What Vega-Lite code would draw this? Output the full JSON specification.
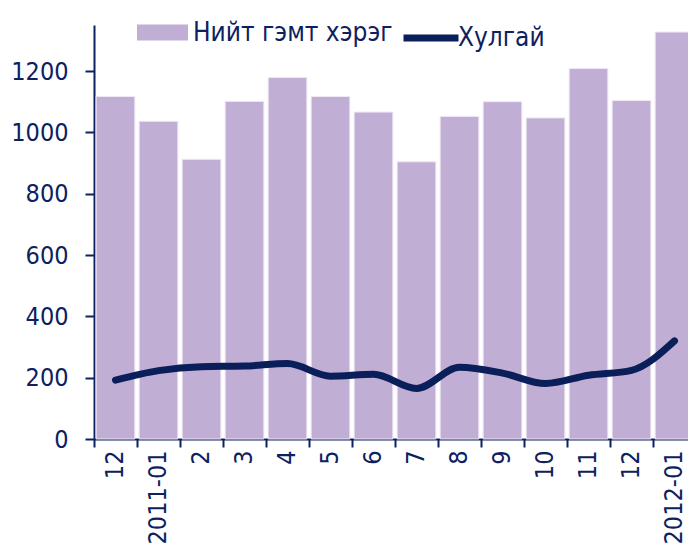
{
  "$schema": "https://vega.github.io/schema/vega-lite/v6.json",
  "width": 602,
  "height": 414,
  "autosize": {"type": "none"},
  "padding": {"left": 94, "top": 25, "right": 0, "bottom": 115},
  "config": {
    "view": {"stroke": null},
    "font": "DejaVu Sans Condensed",
    "axis": {
      "grid": false,
      "title": null,
      "domainColor": "#0D2160",
      "domainWidth": 2,
      "tickColor": "#0D2160",
      "tickWidth": 2,
      "labelColor": "#0D2160",
      "labelFont": "DejaVu Sans Condensed",
      "labelFontSize": 25
    }
  },
  "data": {
    "values": [
      {"month": "2010-12", "total": 1117, "theft": 192},
      {"month": "2011-01", "total": 1036, "theft": 223},
      {"month": "2011-02", "total": 912, "theft": 236},
      {"month": "2011-03", "total": 1101, "theft": 238},
      {"month": "2011-04", "total": 1179, "theft": 246},
      {"month": "2011-05", "total": 1117, "theft": 205},
      {"month": "2011-06", "total": 1066, "theft": 211},
      {"month": "2011-07", "total": 904, "theft": 165},
      {"month": "2011-08", "total": 1052, "theft": 234},
      {"month": "2011-09", "total": 1100, "theft": 215},
      {"month": "2011-10", "total": 1047, "theft": 181},
      {"month": "2011-11", "total": 1208, "theft": 208},
      {"month": "2011-12", "total": 1104, "theft": 224},
      {"month": "2012-01", "total": 1327, "theft": 320}
    ]
  },
  "encoding": {
    "x": {
      "field": "month",
      "type": "nominal",
      "sort": null,
      "scale": {"paddingInner": 0.1, "paddingOuter": 0.05},
      "axis": {
        "bandPosition": 0,
        "tickOffset": -2.15,
        "labelOffset": 1,
        "labelAngle": -90,
        "labelAlign": "right",
        "labelBaseline": "middle",
        "tickSize": 8,
        "labelPadding": 3,
        "labelExpr": "datum.value == '2011-01' || datum.value == '2012-01' ? datum.value : '' + toNumber(slice(datum.value, 5))"
      }
    }
  },
  "layer": [
    {
      "mark": {"type": "bar", "stroke": "#EEE8F5", "strokeWidth": 1},
      "encoding": {
        "y": {
          "field": "total",
          "type": "quantitative",
          "scale": {"domain": [0, 1350], "nice": false},
          "axis": {"values": [0, 200, 400, 600, 800, 1000, 1200], "format": "d", "tickSize": 9, "labelPadding": 17}
        },
        "fill": {
          "datum": "Нийт гэмт хэрэг",
          "type": "nominal",
          "scale": {"range": ["#C0AED5"]},
          "legend": {
            "orient": "none",
            "legendX": 43,
            "legendY": -18,
            "title": null,
            "padding": 0,
            "symbolType": "M-1,-0.31H1V0.31H-1Z",
            "symbolSize": 2601,
            "symbolStrokeWidth": 0,
            "symbolOpacity": 1,
            "labelOffset": 5,
            "labelFont": "DejaVu Sans Condensed",
            "labelFontSize": 26,
            "labelColor": "#0D2160",
            "labelLimit": 400
          }
        }
      }
    },
    {
      "mark": {"type": "line", "interpolate": "monotone", "strokeWidth": 7, "strokeCap": "round"},
      "encoding": {
        "y": {"field": "theft", "type": "quantitative"},
        "stroke": {
          "datum": "Хулгай",
          "type": "nominal",
          "scale": {"range": ["#0A1E5A"]},
          "legend": {
            "orient": "none",
            "legendX": 306,
            "legendY": -18,
            "title": null,
            "padding": 0,
            "symbolType": "stroke",
            "symbolSize": 3025,
            "symbolStrokeWidth": 7,
            "symbolOpacity": 1,
            "labelOffset": -4,
            "labelFont": "DejaVu Sans Condensed",
            "labelFontSize": 26,
            "labelColor": "#0D2160",
            "labelLimit": 400
          }
        }
      }
    }
  ]
}
